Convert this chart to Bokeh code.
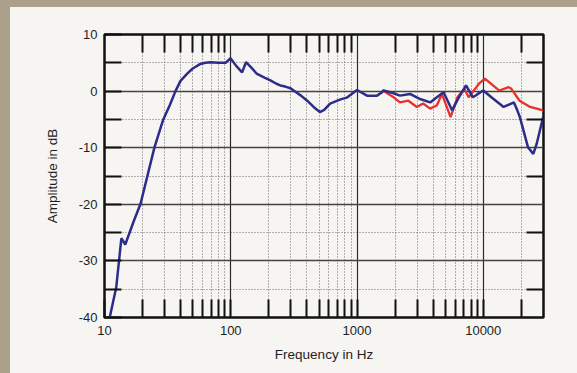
from bokeh.plotting import figure
from bokeh.models import (FixedTicker, LogAxis, LinearAxis, Grid, CustomJSTickFormatter, Range1d)
from bokeh.embed import file_html
from bokeh.resources import INLINE

# ---- data ----
blue_freq = [11, 12.4, 13.6, 14.6, 17.1, 19.3, 24.9, 29, 33, 36.5, 40, 45.2, 50, 57.5, 63, 69, 80,
             91, 99.6, 110, 123, 132, 145, 160, 185, 206, 230, 247, 270, 297, 315, 360, 403,
             453, 508, 550, 612, 732, 839, 1000, 1200, 1440, 1580, 1625, 1900, 2190, 2630,
             3160, 3800, 4290, 4850, 5660, 6410, 7300, 8280, 10000, 11600, 14500, 17500,
             18600, 19500, 22600, 24900, 26500, 29800]
blue_db = [-40, -34.6, -26.0, -27.1, -22.9, -19.9, -9.9, -5.2, -2.4, 0.0, 1.8, 3.1, 4.0, 4.8,
           5.0, 5.1, 5.0, 5.0, 5.8, 4.5, 3.3, 5.1, 4.2, 3.1, 2.4, 1.9, 1.3, 1.0, 0.8, 0.5, 0.1,
           -0.8, -1.7, -2.8, -3.7, -3.3, -2.2, -1.5, -1.1, 0.2, -0.8, -0.8, -0.2, 0.1, -0.3,
           -0.8, -0.5, -1.4, -2.0, -1.1, -0.2, -3.4, -1.1, 1.0, -1.1, 0.1, -1.1, -2.8, -2.0,
           -3.4, -4.6, -9.9, -11.1, -9.3, -4.6]

red_freq = [1580, 1950, 2190, 2550, 2980, 3340, 3800, 4300, 4700, 5510, 6240, 7090, 7660, 9250,
            10300, 13400, 15900, 16700, 19400, 23500, 26500, 29800]
red_db = [0.2, -1.1, -2.0, -1.7, -2.8, -2.2, -3.1, -2.5, -0.5, -4.6, -1.1, 0.4, -1.1, 1.3,
          2.2, 0.1, 0.7, 0.4, -1.7, -2.8, -3.1, -3.4]

x_decades = [10, 100, 1000, 10000]
x_minor = [m * d for d in [10, 100, 1000] for m in range(2, 10)] + [20000]
y_major = [-40, -30, -20, -10, 0, 10]
y_minor = [-35, -25, -15, -5, 5]

x_label = "Frequency in Hz"
y_label = "Amplitude in dB"

FONT = "Liberation Sans"
TXT = "#1e1e1e"
BEIGE = "#aba089"
PAPER = "#f6f5f2"

p = figure(width=577, height=373, x_axis_type="log", x_range=Range1d(10, 30000),
           y_range=Range1d(-40, 10), output_backend="svg", toolbar_location=None,
           x_axis_location=None, y_axis_location=None,
           min_border_left=104, min_border_right=34, min_border_top=34, min_border_bottom=56)
p.border_fill_alpha = 0
p.background_fill_color = PAPER
p.outline_line_color = "#111111"
p.outline_line_width = 2.5
p.styles = {
    "background-color": PAPER,
    "background-image": (f"linear-gradient(to bottom, {BEIGE} 0px, {BEIGE} 7px, transparent 7px), "
                         f"linear-gradient(to right, {BEIGE} 0px, {BEIGE} 10px, transparent 10px)"),
    "background-repeat": "no-repeat",
    "background-size": "100% 100%",
}

# grids
p.xgrid.visible = False
p.ygrid.visible = False
p.add_layout(Grid(dimension=0, ticker=FixedTicker(ticks=x_minor), grid_line_color="#6e6a72",
                  grid_line_width=1, grid_line_dash="1 2"))
p.add_layout(Grid(dimension=1, ticker=FixedTicker(ticks=y_minor), grid_line_color="#6e6a72",
                  grid_line_width=1, grid_line_dash="1 2"))
p.add_layout(Grid(dimension=0, ticker=FixedTicker(ticks=x_decades), grid_line_color="#2a2a2a",
                  grid_line_width=1.2))
p.add_layout(Grid(dimension=1, ticker=FixedTicker(ticks=y_major), grid_line_color="#4a4040",
                  grid_line_width=1.4))

xfmt = CustomJSTickFormatter(code="""
const l = Math.log10(tick);
return (Math.abs(l - Math.round(l)) < 1e-6) ? tick.toFixed(0) : '';
""")
yfmt = CustomJSTickFormatter(code="return (Math.abs(tick % 10) < 1e-6) ? tick.toFixed(0) : '';")

def style_axis(ax, labels=True):
    ax.major_tick_in = 18
    ax.major_tick_out = 0
    ax.minor_tick_in = 0
    ax.minor_tick_out = 0
    ax.major_tick_line_color = "#111111"
    ax.major_tick_line_width = 2
    ax.axis_line_color = None
    ax.major_label_text_font = FONT
    ax.major_label_text_font_size = "13px"
    ax.major_label_text_color = TXT
    ax.axis_label_text_font = FONT
    ax.axis_label_text_font_size = "13.5px"
    ax.axis_label_text_font_style = "normal"
    ax.axis_label_text_color = TXT
    if not labels:
        ax.major_label_text_font_size = "0px"

xt = FixedTicker(ticks=x_decades + x_minor)
yt = FixedTicker(ticks=y_major + y_minor)

bx = LogAxis(ticker=xt, formatter=xfmt, axis_label=x_label)
style_axis(bx)
bx.major_label_standoff = 8
bx.axis_label_standoff = 9
p.add_layout(bx, "below")

tx = LogAxis(ticker=FixedTicker(ticks=x_minor), formatter=xfmt)
style_axis(tx, labels=False)
p.add_layout(tx, "above")

ly = LinearAxis(ticker=yt, formatter=yfmt, axis_label=y_label)
style_axis(ly)
ly.major_tick_in = 17
ly.major_label_standoff = 7
ly.axis_label_standoff = 16
p.add_layout(ly, "left")

ry = LinearAxis(ticker=FixedTicker(ticks=y_minor), formatter=yfmt)
style_axis(ry, labels=False)
ry.major_tick_in = 17
p.add_layout(ry, "right")

# curves
p.line(red_freq, red_db, line_color="#e8312b", line_width=2.3)
p.line(blue_freq, blue_db, line_color="#2c2c8a", line_width=2.5)

open("out.html", "w").write(file_html(p, INLINE))
